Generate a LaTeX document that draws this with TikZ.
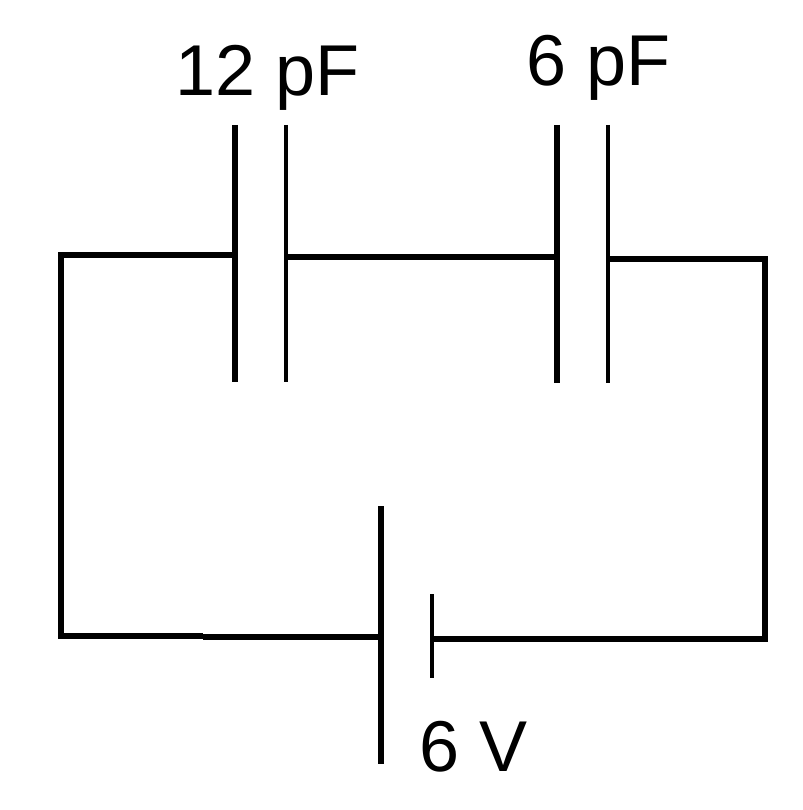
\documentclass[tikz,border=0pt]{standalone}
\usepackage{fontspec}
\setmainfont{Liberation Sans}
\begin{document}
\begin{tikzpicture}[x=1pt,y=-1pt,
  wire/.style={line width=6pt, line cap=butt, line join=miter},
  thickplate/.style={line width=6pt, line cap=butt},
  thinplate/.style={line width=4.5pt, line cap=butt},
  lbl/.style={font=\fontsize{72}{78}\selectfont, inner sep=0pt, anchor=base}]
\useasboundingbox (0,0) rectangle (802,810);
\fill[white] (0,0) rectangle (802,810);
% capacitor 1
\coordinate (c1Lt) at (235,125); \coordinate (c1Lb) at (235,382);
\coordinate (c1Rt) at (286,125); \coordinate (c1Rb) at (286,382);
% capacitor 2
\coordinate (c2Lt) at (557,125); \coordinate (c2Lb) at (557,383);
\coordinate (c2Rt) at (608,125); \coordinate (c2Rb) at (608,383);
% battery
\coordinate (bLt) at (381,506); \coordinate (bLb) at (381,764);
\coordinate (bSt) at (432,594); \coordinate (bSb) at (432,678);
% wire points
\coordinate (c1Lw) at (235,255);
\coordinate (TL) at (61,255);
\coordinate (BL) at (61,636);
\coordinate (step) at (203,636);
\coordinate (step2) at (203,637);
\coordinate (bLw) at (381,637);
\coordinate (c1Rw) at (286,257);
\coordinate (c2Lw) at (557,257);
\coordinate (c2Rw) at (608,259);
\coordinate (TR) at (765,259);
\coordinate (BR) at (765,639);
\coordinate (bSw) at (432,639);
% plates
\draw[thickplate] (c1Lt) -- (c1Lb);
\draw[thinplate] (c1Rt) -- (c1Rb);
\draw[thickplate] (c2Lt) -- (c2Lb);
\draw[thinplate] (c2Rt) -- (c2Rb);
\draw[thickplate] (bLt) -- (bLb);
\draw[thinplate] (bSt) -- (bSb);
% wires
\draw[wire] (c1Lw) -- (TL) -- (BL) -- (step);
\draw[wire] (step2) -- (bLw);
\draw[wire] (c1Rw) -- (c2Lw);
\draw[wire] (c2Rw) -- (TR) -- (BR) -- (bSw);
% labels
\node[lbl] (l1) at (268,96) {12 pF};
\node[lbl] (l2) at (599,86) {6 pF};
\node[lbl] (l3) at (474,771) {6 V};
\end{tikzpicture}
\end{document}
